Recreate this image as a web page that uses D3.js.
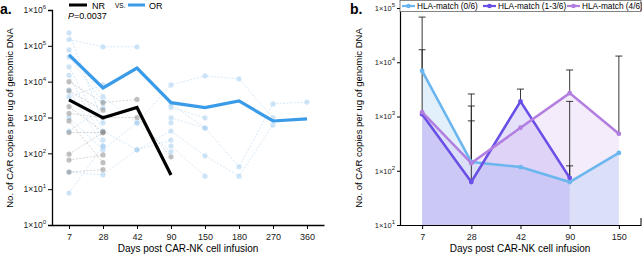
<!DOCTYPE html>
<html>
<head>
<meta charset="utf-8">
<script src="https://cdn.jsdelivr.net/npm/d3@7"></script>
<style>
body { margin: 0; background: #fff; }
svg { font-family: "Liberation Sans", Arial, sans-serif; }
</style>
</head>
<body>
<svg id="chart" width="642" height="256"></svg>
<script>
// ---- panel a data ----
const daysA = ["7", "28", "42", "90", "150", "180", "270", "360"];
const meanOR = [56000, 6700, 24000, 2600, 1900, 2900, 800, 920];
const meanNR = [3100, 980, 1900, 25, null, null, null, null];
// individual patients (non responders)
const nrPatients = [
    [10000, 2600, 3200, null, null, null, null, null],
    [5500, 1600, null, null, null, null, null, null],
    [2000, 400, null, null, null, null, null, null],
    [1300, 1000, 1000, 80, null, null, null, null],
    [800, 55, null, null, null, null, null, null],
    [380, 380, null, null, null, null, null, null],
    [95, 380, null, null, null, null, null, null],
    [65, 90, null, null, null, null, null, null],
    [30, 35, null, null, null, null, null, null]
];
// individual patients (responders)
const orPatients = [
    [150000, 94000, 94000, null, null, null, null, null],
    [230000, 710, null, null, null, null, null, null],
    [77000, 3800, 710, 8100, 14500, 12000, 980, null],
    [49000, 2700, null, 2400, 510, 42, 2400, 2700],
    [26000, 420, 125, 420, 85, 23, 620, null],
    [15000, 235, null, 160, 23, null, null, null],
    [5900, 160, null, 980, 510, null, null, null],
    [980, 125, 710, 110, null, null, null, null],
    [30, 25, 125, 235, null, null, null, null],
    [7.8, 160, null, null, null, null, null, null],
    [420, 1900, null, 1900, 980, null, null, null],
    [3800, 8100, null, 710, null, null, null, null]
];

// ---- panel b data ----
const daysB = ["7", "28", "42", "90", "150"];
const hlaNames = ["HLA-match (0/6)", "HLA-match (1-3/6)", "HLA-match (4/6)"];
const hla0 = [6900, 145, 117, 62, 213];
const hla13 = [1100, 62, 1900, 74, null];
const hla4 = [1200, 138, 620, 2700, 480];
const hla0Upper = [68000, 2600, null, 1900, null];
const hla13Upper = [17000, 1560, 3200, 123, null];
const hla4Upper = [null, 830, null, 7200, 13000];
const hlaColors = ["#6cb6ef", "#6a4fe6", "#b27fe0"];
const hlaFills = ["#6cb6ef", "#6a4fe6", "#c08fe8"];

const svg = d3.select("#chart");

function supLabel(sel, v) {
    const e = Math.round(Math.log10(v));
    sel.text(null);
    sel.append("tspan").text("1×10");
    sel.append("tspan").attr("dy", -4).attr("font-size", 6).text(e);
}

// ================= PANEL A =================
const xA = d3.scalePoint().domain(daysA).range([52, 324]).padding(0.5);
const yA = d3.scaleLog().domain([1, 1e6]).range([225, 10]);

const gA = svg.append("g");

const axA = gA.append("g").attr("transform", "translate(52,0)")
    .call(d3.axisLeft(yA).tickValues([1, 10, 100, 1000, 1e4, 1e5, 1e6]).tickSize(4).tickPadding(2));
axA.selectAll("text").each(function (d) { supLabel(d3.select(this), d); })
    .attr("font-size", 8.5).attr("fill", "#222").attr("font-family", "Liberation Sans, Arial");
axA.select(".domain").attr("stroke-width", 1.3);

const axAx = gA.append("g").attr("transform", "translate(0,225)")
    .call(d3.axisBottom(xA).tickSize(4).tickPadding(5).tickSizeOuter(0));
axAx.selectAll("text").attr("font-size", 9).attr("fill", "#222").attr("font-family", "Liberation Sans, Arial");
axAx.select(".domain").attr("stroke-width", 1.3);

const lineA = d3.line().defined(d => d != null).x((d, i) => xA(daysA[i])).y(d => yA(d));

function drawPatients(list, color, dotColor) {
    list.forEach(p => {
        gA.append("path").datum(p).attr("d", lineA).attr("fill", "none")
            .attr("stroke", color).attr("stroke-width", 0.7).attr("stroke-dasharray", "2,1.5").attr("opacity", 0.6);
        gA.append("g").selectAll("circle").data(p.map((v, i) => ({ v, i })).filter(d => d.v != null))
            .enter().append("circle")
            .attr("cx", d => xA(daysA[d.i])).attr("cy", d => yA(d.v)).attr("r", 2.6)
            .attr("fill", dotColor).attr("opacity", 0.55);
    });
}
drawPatients(orPatients, "#9cc8ee", "#a6cdf0");
drawPatients(nrPatients, "#9a9a9a", "#8e8e8e");

gA.append("path").datum(meanOR).attr("d", lineA).attr("fill", "none")
    .attr("stroke", "#3a9be8").attr("stroke-width", 3.2);
gA.append("path").datum(meanNR).attr("d", lineA).attr("fill", "none")
    .attr("stroke", "#000").attr("stroke-width", 3.2);

// legend a
gA.append("line").attr("x1", 69).attr("x2", 87).attr("y1", 5).attr("y2", 5).attr("stroke", "#000").attr("stroke-width", 3);
gA.append("text").attr("x", 92).attr("y", 9).attr("font-size", 9).text("NR");
gA.append("text").attr("x", 115).attr("y", 8).attr("font-size", 6.5).text("VS.");
gA.append("line").attr("x1", 128).attr("x2", 145).attr("y1", 5).attr("y2", 5).attr("stroke", "#3a9be8").attr("stroke-width", 3);
gA.append("text").attr("x", 149).attr("y", 9).attr("font-size", 9).text("OR");
const pTxt = gA.append("text").attr("x", 68).attr("y", 19).attr("font-size", 9);
pTxt.append("tspan").attr("font-style", "italic").text("P");
pTxt.append("tspan").text("=0.0037");

gA.append("text").attr("x", 0).attr("y", 14).attr("font-size", 14).attr("font-weight", "bold").text("a.");
gA.append("text").attr("transform", "translate(13,118) rotate(-90)").attr("text-anchor", "middle")
    .attr("font-size", 9.5).text("No. of CAR copies per ug of genomic DNA");
gA.append("text").attr("x", 188).attr("y", 252).attr("text-anchor", "middle")
    .attr("font-size", 10).text("Days post CAR-NK cell infusion");

// ================= PANEL B =================
const xB = d3.scalePoint().domain(daysB).range([400, 641]).padding(0.45);
const yB = d3.scaleLog().domain([10, 1e5]).range([225, 8]);

const gB = svg.append("g");

const series = [hla0, hla13, hla4];
const uppers = [hla0Upper, hla13Upper, hla4Upper];

const areaB = d3.area().defined(d => d != null).x((d, i) => xB(daysB[i])).y0(225).y1(d => yB(d));
const lineB = d3.line().defined(d => d != null).x((d, i) => xB(daysB[i])).y(d => yB(d));

series.forEach((s, k) => {
    gB.append("path").datum(s).attr("d", areaB).attr("fill", hlaFills[k]).attr("opacity", k == 0 ? 0.2 : 0.17);
});

// error bars
series.forEach((s, k) => {
    uppers[k].forEach((u, i) => {
        if (u == null || s[i] == null) return;
        const x = xB(daysB[i]);
        gB.append("line").attr("x1", x).attr("x2", x).attr("y1", yB(s[i])).attr("y2", yB(u))
            .attr("stroke", "#222").attr("stroke-width", 0.9);
        gB.append("line").attr("x1", x - 3.5).attr("x2", x + 3.5).attr("y1", yB(u)).attr("y2", yB(u))
            .attr("stroke", "#222").attr("stroke-width", 0.9);
    });
});

series.forEach((s, k) => {
    gB.append("path").datum(s).attr("d", lineB).attr("fill", "none")
        .attr("stroke", hlaColors[k]).attr("stroke-width", 2.6);
    gB.append("g").selectAll("circle").data(s.map((v, i) => ({ v, i })).filter(d => d.v != null))
        .enter().append("circle")
        .attr("cx", d => xB(daysB[d.i])).attr("cy", d => yB(d.v)).attr("r", 2.4)
        .attr("fill", hlaColors[k]);
});

const axB = gB.append("g").attr("transform", "translate(400,0)")
    .call(d3.axisLeft(yB).tickValues([10, 100, 1000, 1e4, 1e5]).tickSize(3).tickPadding(2));
axB.selectAll("text").each(function (d) { supLabel(d3.select(this), d); })
    .attr("font-size", 7.5).attr("fill", "#222").attr("font-family", "Liberation Sans, Arial");
axB.select(".domain").attr("stroke-width", 1.2);

const axBx = gB.append("g").attr("transform", "translate(0,225)")
    .call(d3.axisBottom(xB).tickSize(4).tickPadding(5).tickSizeOuter(0));
axBx.selectAll("text").attr("font-size", 9).attr("fill", "#222").attr("font-family", "Liberation Sans, Arial");
axBx.select(".domain").attr("stroke-width", 1.2);
gB.append("line").attr("x1", 641).attr("x2", 641).attr("y1", 225).attr("y2", 218).attr("stroke", "#000");

// legend b
gB.append("rect").attr("x", 400).attr("y", 0.5).attr("width", 241).attr("height", 11)
    .attr("fill", "#fff").attr("stroke", "#666").attr("stroke-width", 0.8);
const legX = [402, 483, 567];
hlaNames.forEach((n, k) => {
    gB.append("line").attr("x1", legX[k]).attr("x2", legX[k] + 13).attr("y1", 6).attr("y2", 6)
        .attr("stroke", hlaColors[k]).attr("stroke-width", 2.2);
    gB.append("circle").attr("cx", legX[k] + 6.5).attr("cy", 6).attr("r", 2.3).attr("fill", hlaColors[k]);
    gB.append("text").attr("x", legX[k] + 15).attr("y", 9.2).attr("font-size", 8.3).text(n);
});

gB.append("text").attr("x", 350).attr("y", 14).attr("font-size", 14).attr("font-weight", "bold").text("b.");
gB.append("text").attr("transform", "translate(362,118) rotate(-90)").attr("text-anchor", "middle")
    .attr("font-size", 9.5).text("No. of CAR copies per ug of genomic DNA");
gB.append("text").attr("x", 520).attr("y", 252).attr("text-anchor", "middle")
    .attr("font-size", 10).text("Days post CAR-NK cell infusion");
</script>
</body>
</html>
